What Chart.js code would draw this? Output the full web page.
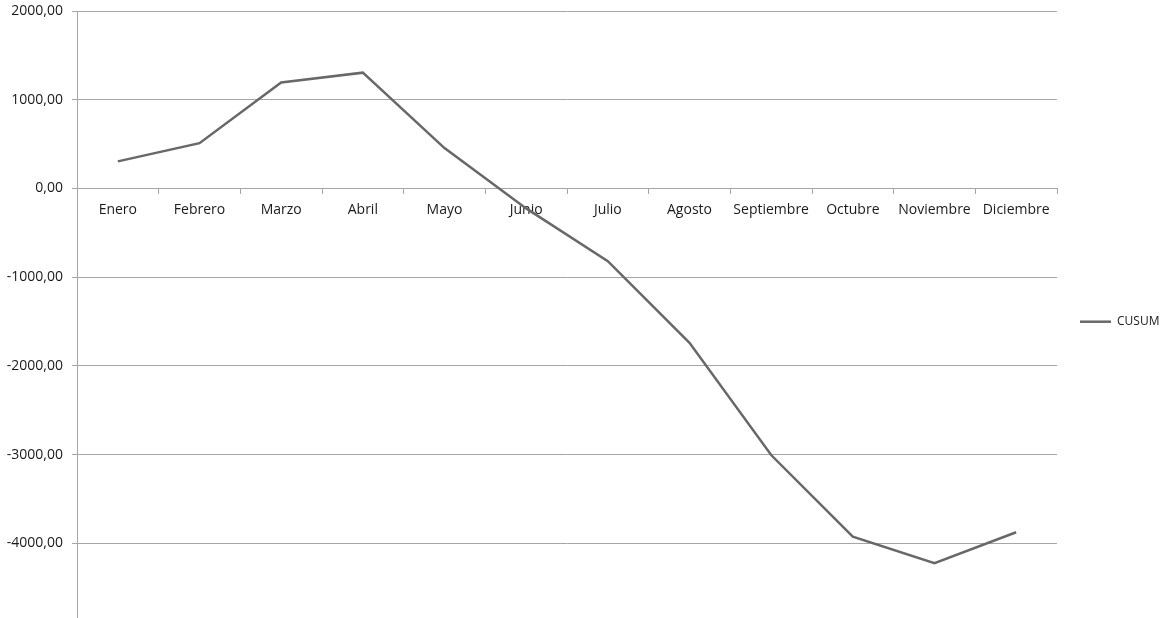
<!DOCTYPE html>
<html>
<head>
<meta charset="utf-8">
<script src="https://cdn.jsdelivr.net/npm/chart.js@4.4.1/dist/chart.umd.min.js"></script>
<style>
  html, body { margin: 0; padding: 0; background: #ffffff; }
  #wrap { width: 1168px; height: 618px; position: relative; }
</style>
</head>
<body>
<div id="wrap"><canvas id="c" width="1168" height="618"></canvas></div>
<script>
const categories = ["Enero", "Febrero", "Marzo", "Abril", "Mayo", "Junio", "Julio", "Agosto", "Septiembre", "Octubre", "Noviembre", "Diciembre"];
const seriesName = "CUSUM";
const cusumValues = [305, 510, 1195, 1305, 455, -225, -820, -1740, -3005, -3925, -4225, -3875];
const yTickValues = [2000, 1000, 0, -1000, -2000, -3000, -4000];

const gridColor = "#a6a6a6";
const lineColor = "#686868";
const textColor = "#1a1a1a";
const fontFamily = "'Open Sans', 'Liberation Sans', sans-serif";

const fmt = v => v.toFixed(2).replace(".", ",");

const legendWidthPlugin = {
  id: "legendWidth",
  afterInit(chart) {
    const lg = chart.legend;
    if (!lg) return;
    const orig = lg.fit;
    lg.fit = function () {
      orig.call(this);
      this.width = 111;
      this.maxWidth = 111;
    };
  }
};

new Chart(document.getElementById("c"), {
  type: "line",
  data: {
    labels: categories,
    datasets: [{
      label: seriesName,
      data: cusumValues,
      borderColor: lineColor,
      backgroundColor: lineColor,
      borderWidth: 2.5,
      pointRadius: 0,
      pointHoverRadius: 0,
      tension: 0,
      fill: false
    }]
  },
  plugins: [legendWidthPlugin],
  options: {
    responsive: false,
    animation: false,
    devicePixelRatio: 1,
    layout: { padding: { top: 11, right: 0, bottom: 0, left: 0 } },
    plugins: {
      tooltip: { enabled: false },
      legend: {
        position: "right",
        align: "center",
        title: { display: true, text: " ", padding: 0, font: { family: fontFamily, size: 12 } },
        labels: {
          usePointStyle: true,
          pointStyle: "line",
          pointStyleWidth: 31,
          padding: 23,
          color: textColor,
          font: { family: fontFamily, size: 12 }
        }
      }
    },
    scales: {
      x: {
        position: { y: 0 },
        offset: true,
        afterFit: s => { s.height = 0; s.paddingLeft = 0; s.paddingRight = 0; },
        grid: {
          offset: true,
          drawOnChartArea: false,
          drawTicks: true,
          tickLength: 5,
          color: gridColor
        },
        border: { color: gridColor, width: 1 },
        ticks: {
          color: textColor,
          font: { family: fontFamily, size: 14 },
          padding: 8,
          maxRotation: 0,
          autoSkip: false
        }
      },
      y: {
        min: -4842,
        max: 2000,
        afterBuildTicks: s => { s.ticks = yTickValues.map(v => ({ value: v })); },
        afterFit: s => { s.width = 77; s.paddingTop = 0; s.paddingBottom = 0; },
        grid: {
          color: gridColor,
          tickLength: 5,
          drawTicks: true
        },
        border: { color: gridColor, width: 1 },
        ticks: {
          color: textColor,
          font: { family: fontFamily, size: 14 },
          padding: 9,
          callback: v => fmt(v)
        }
      }
    }
  }
});
</script>
</body>
</html>
